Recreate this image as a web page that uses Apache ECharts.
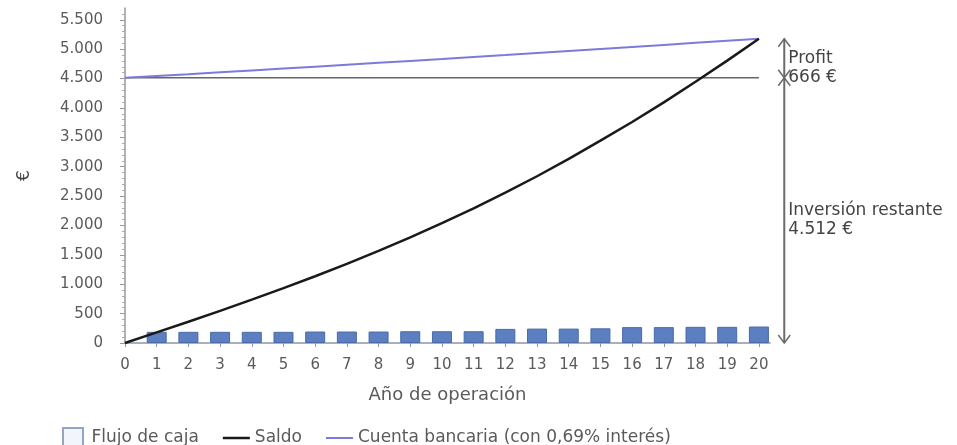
<!DOCTYPE html>
<html>
<head>
<meta charset="utf-8">
<script src="https://cdn.jsdelivr.net/npm/echarts@6/dist/echarts.min.js"></script>
<style>
  html, body { margin: 0; padding: 0; background: #fff; }
  #chart { width: 957px; height: 445px; }
</style>
</head>
<body>
<div id="chart"></div>
<script>
// Years of operation shown on the horizontal axis
const years = [0, 1, 2, 3, 4, 5, 6, 7, 8, 9, 10, 11, 12, 13, 14, 15, 16, 17, 18, 19, 20];
// Yearly cash flow (bars, years 1..20)
const flujoDeCaja = [190, 190, 190, 190, 190, 195, 195, 195, 200, 200, 200, 240, 245, 245, 250, 270, 270, 275, 275, 280];
// Cumulative balance
const saldo = [0, 180, 362, 547, 737, 933, 1136, 1347, 1567, 1797, 2038, 2291, 2557, 2837, 3132, 3443, 3760, 4095, 4445, 4805, 5178];
// Same investment left in a bank account at 0,69 %
const cuentaBancaria = [4512, 4543, 4574, 4606, 4638, 4670, 4702, 4734, 4767, 4800, 4833, 4867, 4900, 4934, 4968, 5003, 5037, 5072, 5107, 5142, 5178];
// Remaining investment
const inversionRestante = 4512;
// Y-axis tick labels
const yTicks = [0, 500, 1000, 1500, 2000, 2500, 3000, 3500, 4000, 4500, 5000, 5500];

const FONT = 'DejaVu Sans';
const TEXT = '#5a5a5a';
const fmt = v => String(Math.round(v)).replace(/\B(?=(\d{3})+(?!\d))/g, '.');

const lastYear = years[years.length - 1];
const profit = saldo[saldo.length - 1] - inversionRestante;
const annotX = lastYear + 0.8;

// Double-headed arrow annotations to the right of the plot
const annotations = [
  [annotX, 0, inversionRestante, 'Inversión restante\n' + fmt(inversionRestante) + ' €'],
  [annotX, inversionRestante, inversionRestante + profit, 'Profit\n' + fmt(profit) + ' €']
];

const chart = echarts.init(document.getElementById('chart'), null, { renderer: 'canvas' });

chart.setOption({
  animation: false,
  backgroundColor: '#fff',
  textStyle: { fontFamily: FONT },
  grid: { left: 125, right: 187, top: 8, bottom: 102, containLabel: false },
  legend: {
    left: 57,
    top: 422,
    itemWidth: 27,
    itemHeight: 20,
    itemGap: 24,
    textStyle: { color: TEXT, fontSize: 17, fontFamily: FONT },
    data: [
      { name: 'Flujo de caja', icon: 'path://M0,0h20v20h-20z',
        itemStyle: { color: '#f2f5fb', borderColor: '#94a4c4', borderWidth: 2 } },
      { name: 'Saldo', icon: 'path://M0,0h27v2.5h-27z' },
      { name: 'Cuenta bancaria (con 0,69% interés)', icon: 'path://M0,0h27v2h-27z' }
    ]
  },
  xAxis: {
    type: 'value',
    min: 0,
    max: 20.35,
    name: 'Año de operación',
    nameLocation: 'middle',
    nameGap: 43,
    nameTextStyle: { color: TEXT, fontSize: 18, fontFamily: FONT },
    axisLine: { show: true, lineStyle: { color: '#8a97a8', width: 1.5 } },
    axisTick: { show: true, length: 4, customValues: years, lineStyle: { color: '#8a97a8' } },
    axisLabel: { customValues: years, margin: 15, color: TEXT, fontSize: 15, fontFamily: FONT },
    splitLine: { show: false }
  },
  yAxis: {
    type: 'value',
    min: 0,
    max: 5700,
    interval: 500,
    offset: 10,
    name: '€',
    nameLocation: 'middle',
    nameRotate: 90,
    nameGap: 82,
    nameTextStyle: { color: '#444', fontSize: 17, fontFamily: FONT },
    axisLine: { show: true, lineStyle: { color: '#999', width: 1.5 } },
    axisTick: { show: true, length: 5, customValues: yTicks, lineStyle: { color: '#999' } },
    minorTick: { show: true, splitNumber: 5, length: 3, lineStyle: { color: '#aaa' } },
    axisLabel: { customValues: yTicks, margin: 12, color: TEXT, fontSize: 15, fontFamily: FONT, formatter: fmt },
    splitLine: { show: false }
  },
  series: [
    {
      name: 'Flujo de caja',
      type: 'bar',
      barWidth: 20,
      clip: false,
      itemStyle: { color: '#5b7fc0', borderColor: '#4a6aa6', borderWidth: 1 },
      data: flujoDeCaja.map((v, i) => [years[i + 1], v]),
      z: 2
    },
    {
      name: 'Inversión',
      type: 'line',
      symbol: 'none',
      lineStyle: { color: '#666', width: 1.5 },
      data: [[years[0], inversionRestante], [lastYear, inversionRestante]],
      z: 3
    },
    {
      name: 'Cuenta bancaria (con 0,69% interés)',
      type: 'line',
      symbol: 'none',
      itemStyle: { color: '#7b7bdc' },
      lineStyle: { color: '#7b7bdc', width: 2 },
      data: years.map((y, i) => [y, cuentaBancaria[i]]),
      z: 4
    },
    {
      name: 'Saldo',
      type: 'line',
      symbol: 'none',
      itemStyle: { color: '#1a1a1a' },
      lineStyle: { color: '#1a1a1a', width: 2.5 },
      data: years.map((y, i) => [y, saldo[i]]),
      z: 5
    },
    {
      name: 'anotaciones',
      type: 'custom',
      silent: true,
      clip: false,
      data: annotations,
      renderItem: function (params, api) {
        const x = api.value(0);
        const pLow = api.coord([x, api.value(1)]);
        const pHigh = api.coord([x, api.value(2)]);
        const text = annotations[params.dataIndex][3];
        const hw = 6, hh = 8;
        const stroke = '#6b6b6b';
        const mid = (pLow[1] + pHigh[1]) / 2;
        return {
          type: 'group',
          children: [
            { type: 'line', shape: { x1: pLow[0], y1: pLow[1], x2: pHigh[0], y2: pHigh[1] },
              style: { stroke: stroke, lineWidth: 2 } },
            { type: 'polyline', shape: { points: [[pLow[0] - hw, pLow[1] - hh], [pLow[0], pLow[1]], [pLow[0] + hw, pLow[1] - hh]] },
              style: { stroke: stroke, lineWidth: 1.5, fill: null } },
            { type: 'polyline', shape: { points: [[pHigh[0] - hw, pHigh[1] + hh], [pHigh[0], pHigh[1]], [pHigh[0] + hw, pHigh[1] + hh]] },
              style: { stroke: stroke, lineWidth: 1.5, fill: null } },
            { type: 'text', x: pLow[0] + 4, y: mid - 9,
              style: { text: text, fill: '#444', fontSize: 17, fontFamily: FONT, lineHeight: 19, verticalAlign: 'top', align: 'left' } }
          ]
        };
      },
      z: 6
    }
  ]
});
</script>
</body>
</html>
